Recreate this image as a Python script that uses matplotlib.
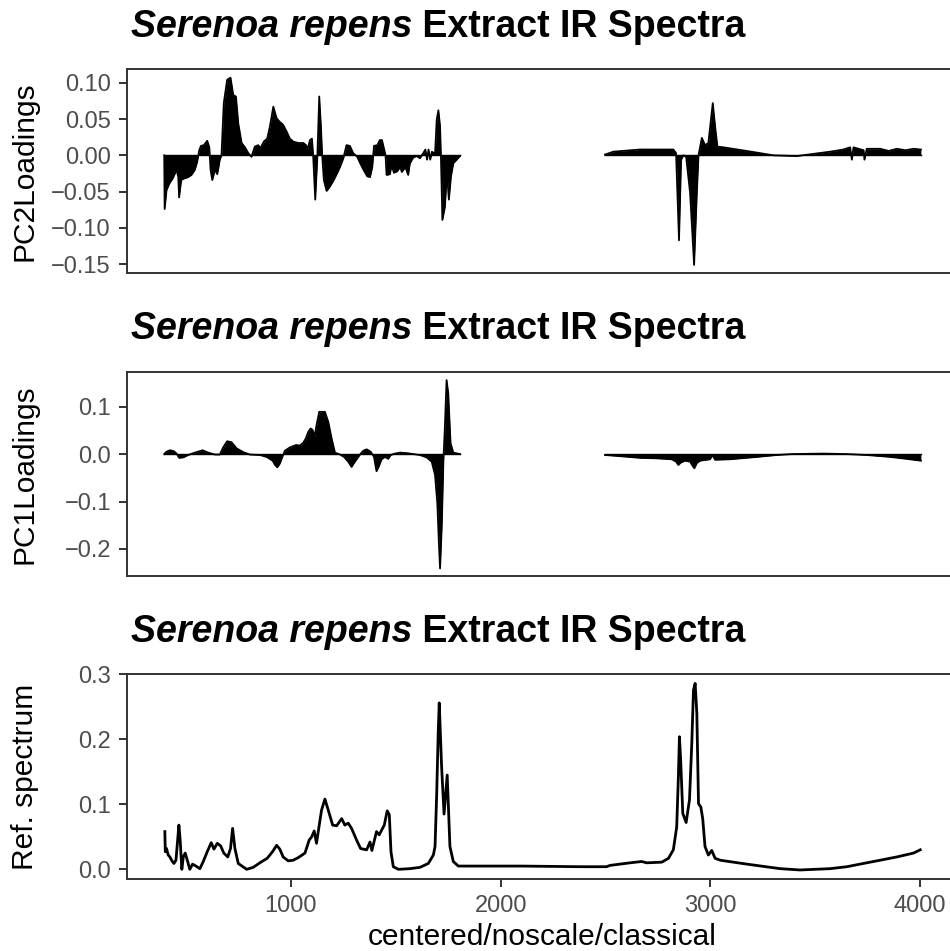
import matplotlib
matplotlib.use('Agg')
import matplotlib.pyplot as plt
from matplotlib.ticker import FuncFormatter

plt.rcParams['font.family'] = ['Liberation Sans', 'DejaVu Sans']

# wavenumbers / values
pc2_left_x = [396, 398, 407, 420, 436, 455, 463, 467, 477, 490, 510, 526, 542, 553, 563, 571,
              585, 601, 611, 617, 625, 638, 649, 661, 669, 680, 696, 712, 725, 738, 749, 765,
              781, 797, 812, 828, 844, 855, 871, 887, 900, 916, 932, 947, 963, 979, 995, 1011,
              1035, 1059, 1072, 1079, 1091, 1100, 1106, 1116, 1126, 1135, 1143, 1149, 1157,
              1170, 1186, 1202, 1218, 1234, 1250, 1265, 1281, 1297, 1316, 1332, 1348, 1364,
              1377, 1388, 1396, 1412, 1424, 1434, 1443, 1451, 1456, 1472, 1480, 1491, 1507,
              1520, 1529, 1545, 1559, 1567, 1583, 1599, 1615, 1631, 1641, 1649, 1656, 1664,
              1672, 1687, 1695, 1703, 1711, 1715, 1722, 1734, 1744, 1753, 1763, 1774, 1790, 1806]
pc2_left_y = [0.0, -0.074, -0.048, -0.039, -0.032, -0.020, -0.030, -0.058, -0.034, -0.032,
              -0.030, -0.027, -0.020, -0.009, 0.007, 0.013, 0.014, 0.020, 0.011, -0.020, -0.034,
              -0.020, -0.026, -0.006, 0.000, 0.072, 0.104, 0.107, 0.083, 0.081, 0.044, 0.017,
              0.011, 0.003, -0.002, 0.012, 0.014, 0.010, 0.019, 0.023, 0.040, 0.067, 0.051,
              0.046, 0.042, 0.033, 0.023, 0.019, 0.017, 0.017, 0.014, 0.008, 0.021, 0.023,
              0.000, -0.061, -0.002, 0.081, 0.040, 0.000, -0.034, -0.049, -0.043, -0.035,
              -0.026, -0.016, -0.004, 0.014, 0.013, 0.003, -0.002, -0.012, -0.021, -0.029,
              -0.030, -0.016, 0.013, 0.014, 0.021, 0.021, 0.010, 0.000, -0.027, -0.026, -0.013,
              -0.024, -0.022, -0.016, -0.023, -0.016, -0.027, -0.011, -0.003, -0.001, -0.004,
              0.003, 0.008, -0.006, 0.008, -0.006, 0.005, 0.002, 0.049, 0.062, 0.040, 0.000,
              -0.089, -0.071, -0.025, -0.061, -0.029, -0.011, -0.006, -0.001]
pc2_right_x = [2497, 2537, 2664, 2823, 2836, 2850, 2860, 2871, 2884, 2903, 2922, 2935, 2943,
               2959, 2974, 2990, 3011, 3022, 3033, 3062, 3173, 3300, 3411, 3491, 3570, 3634,
               3666, 3674, 3682, 3730, 3734, 3745, 3809, 3850, 3888, 3930, 3968, 4003]
pc2_right_y = [0.001, 0.005, 0.008, 0.008, 0.003, -0.117, -0.006, 0.000, -0.002, -0.052,
               -0.151, -0.052, 0.000, 0.024, 0.014, 0.017, 0.072, 0.040, 0.012, 0.011, 0.006,
               0.000, -0.001, 0.002, 0.005, 0.008, 0.011, -0.006, 0.011, 0.007, -0.006, 0.009,
               0.009, 0.006, 0.009, 0.007, 0.009, 0.008]

pc1_left_x = [396, 407, 423, 442, 455, 467, 487, 510, 542, 579, 606, 638, 661, 677, 696, 717,
              741, 773, 804, 852, 884, 913, 924, 935, 947, 959, 971, 995, 1024, 1043, 1059,
              1071, 1083, 1094, 1103, 1113, 1122, 1135, 1162, 1178, 1194, 1210, 1234, 1253,
              1273, 1289, 1305, 1329, 1345, 1361, 1380, 1396, 1408, 1418, 1432, 1448, 1464,
              1475, 1496, 1520, 1552, 1583, 1615, 1647, 1671, 1687, 1698, 1706, 1711, 1719,
              1727, 1734, 1742, 1750, 1761, 1774, 1806]
pc1_left_y = [0.0, 0.005, 0.008, 0.006, 0.001, -0.008, -0.007, -0.002, 0.003, 0.008, 0.003,
              -0.001, -0.001, 0.014, 0.027, 0.025, 0.012, 0.004, -0.001, -0.002, -0.006, -0.014,
              -0.023, -0.028, -0.020, -0.006, 0.007, 0.014, 0.019, 0.018, 0.024, 0.033, 0.047,
              0.054, 0.051, 0.037, 0.061, 0.089, 0.089, 0.068, 0.033, 0.003, -0.001, -0.006,
              -0.016, -0.027, -0.016, -0.001, 0.007, 0.010, 0.005, -0.006, -0.036, -0.027,
              -0.011, -0.006, -0.010, -0.002, 0.001, 0.003, 0.002, 0.000, -0.002, -0.007,
              -0.016, -0.044, -0.104, -0.195, -0.241, -0.153, -0.013, 0.058, 0.156, 0.128,
              0.023, 0.003, 0.000]
pc1_right_x = [2497, 2585, 2664, 2744, 2815, 2836, 2847, 2858, 2879, 2903, 2915, 2923, 2935,
               2950, 2998, 3009, 3022, 3093, 3221, 3316, 3388, 3539, 3650, 3745, 3857, 3952, 4003]
pc1_right_y = [-0.002, -0.005, -0.008, -0.009, -0.011, -0.016, -0.023, -0.018, -0.014, -0.016,
               -0.025, -0.030, -0.019, -0.014, -0.011, -0.002, -0.012, -0.011, -0.006, -0.002,
               0.000, 0.001, 0.000, -0.002, -0.006, -0.011, -0.014]

ref_x = [399, 401, 407, 415, 423, 431, 442, 452, 460, 466, 472, 480, 487, 496, 506, 518, 531,
         547, 566, 582, 601, 620, 633, 649, 665, 680, 699, 712, 722, 733, 749, 789, 820, 852,
         887, 912, 932, 947, 963, 987, 1011, 1035, 1067, 1087, 1099, 1111, 1122, 1135, 1146,
         1162, 1178, 1199, 1218, 1242, 1257, 1273, 1289, 1313, 1332, 1361, 1377, 1386, 1408,
         1421, 1432, 1445, 1459, 1469, 1477, 1488, 1512, 1567, 1615, 1655, 1679, 1687, 1695,
         1702, 1707, 1718, 1730, 1745, 1758, 1774, 1798, 2100, 2378, 2505, 2521, 2617, 2672,
         2696, 2768, 2800, 2823, 2839, 2847, 2852, 2858, 2868, 2884, 2900, 2911, 2919, 2927,
         2935, 2943, 2954, 2963, 2974, 2990, 3006, 3022, 3046, 3173, 3332, 3427, 3570, 3650,
         3729, 3809, 3888, 3968, 4000]
ref_y = [0.058, 0.027, 0.032, 0.022, 0.019, 0.014, 0.009, 0.014, 0.045, 0.068, 0.045, 0.000,
         0.019, 0.025, 0.014, 0.000, 0.008, 0.005, 0.001, 0.012, 0.027, 0.041, 0.031, 0.040,
         0.036, 0.025, 0.019, 0.032, 0.063, 0.032, 0.009, 0.000, 0.003, 0.010, 0.017, 0.027,
         0.037, 0.031, 0.019, 0.013, 0.014, 0.018, 0.025, 0.045, 0.050, 0.059, 0.040, 0.068,
         0.091, 0.108, 0.091, 0.068, 0.067, 0.078, 0.068, 0.071, 0.063, 0.045, 0.032, 0.030,
         0.042, 0.029, 0.058, 0.053, 0.060, 0.068, 0.090, 0.084, 0.027, 0.004, 0.000, 0.001,
         0.003, 0.009, 0.022, 0.035, 0.117, 0.209, 0.256, 0.160, 0.085, 0.145, 0.035, 0.012,
         0.005, 0.005, 0.004, 0.004, 0.006, 0.010, 0.012, 0.010, 0.011, 0.017, 0.030, 0.065,
         0.142, 0.204, 0.168, 0.086, 0.072, 0.107, 0.194, 0.276, 0.286, 0.240, 0.101, 0.096,
         0.078, 0.035, 0.022, 0.029, 0.017, 0.014, 0.008, 0.001, -0.001, 0.001, 0.004, 0.009,
         0.014, 0.019, 0.025, 0.030]

pc2_ticks = [-0.15, -0.10, -0.05, 0.00, 0.05, 0.10]
pc1_ticks = [-0.2, -0.1, 0.0, 0.1]
ref_ticks = [0.0, 0.1, 0.2, 0.3]
x_ticks = [1000, 2000, 3000, 4000]

title_parts = ('Serenoa repens', ' Extract IR Spectra')
ylabels = ['PC2Loadings', 'PC1Loadings', 'Ref. spectrum']
xlabel = 'centered/noscale/classical'

W, H = 950, 951
fig = plt.figure(figsize=(W / 100, H / 100), dpi=100)

left = 127.3 / W
width = (958 - 127.3) / W
panels = [(69.3, 273.3), (371.7, 576.0), (674.3, 879.0)]
axes = []
for top, bot in panels:
    ax = fig.add_axes([left, 1 - bot / H, width, (bot - top) / H])
    axes.append(ax)

edge = '#333333'
for ax in axes:
    ax.set_xlim(220, 4180)
    for s in ax.spines.values():
        s.set_color(edge)
        s.set_linewidth(1.4)
    ax.tick_params(axis='both', length=5.8, width=1.4, color=edge,
                   labelcolor='#4D4D4D', labelsize=17, pad=6)

ax1, ax2, ax3 = axes

for ax, segs in ((ax1, [(pc2_left_x, pc2_left_y), (pc2_right_x, pc2_right_y)]),
                 (ax2, [(pc1_left_x, pc1_left_y), (pc1_right_x, pc1_right_y)])):
    for xs, ys in segs:
        ax.fill_between(xs, 0, ys, color='black', lw=0)
        ax.plot(xs, ys, color='black', lw=1.3)
        ax.plot([xs[0], xs[-1]], [0, 0], color='black', lw=1.0)
    ax.set_xticks([])

minus = lambda fmt: FuncFormatter(lambda v, pos: (fmt % v).replace('-', '\u2212'))

ax1.set_ylim(-0.1625, 0.1185)
ax1.set_yticks(pc2_ticks)
ax1.yaxis.set_major_formatter(minus('%.2f'))

ax2.set_ylim(-0.257, 0.1736)
ax2.set_yticks(pc1_ticks)
ax2.yaxis.set_major_formatter(minus('%.1f'))

ax3.plot(ref_x, ref_y, color='black', lw=2.0)
ax3.set_ylim(-0.0149, 0.300)
ax3.set_yticks(ref_ticks)
ax3.yaxis.set_major_formatter(minus('%.1f'))
ax3.set_xticks(x_ticks)

# titles: italic species name followed by plain bold text
fig.canvas.draw()
for (top, bot) in panels:
    base = 1 - (top - 32.6) / H
    t1 = fig.text(131 / W, base, title_parts[0], fontsize=27, fontweight='bold',
                  fontstyle='italic', va='baseline', ha='left')
    bb = t1.get_window_extent(renderer=fig.canvas.get_renderer())
    fig.text(bb.x1 / W, base, title_parts[1], fontsize=27, fontweight='bold',
             va='baseline', ha='left')

for (top, bot), lab in zip(panels, ylabels):
    fig.text(25 / W, 1 - (top + bot) / 2 / H, lab, rotation=90, fontsize=21.5,
             ha='center', va='center')

fig.text(542.5 / W, 1 - 937 / H, xlabel, fontsize=21.5, ha='center', va='center')

fig.savefig('out.png', dpi=100)
